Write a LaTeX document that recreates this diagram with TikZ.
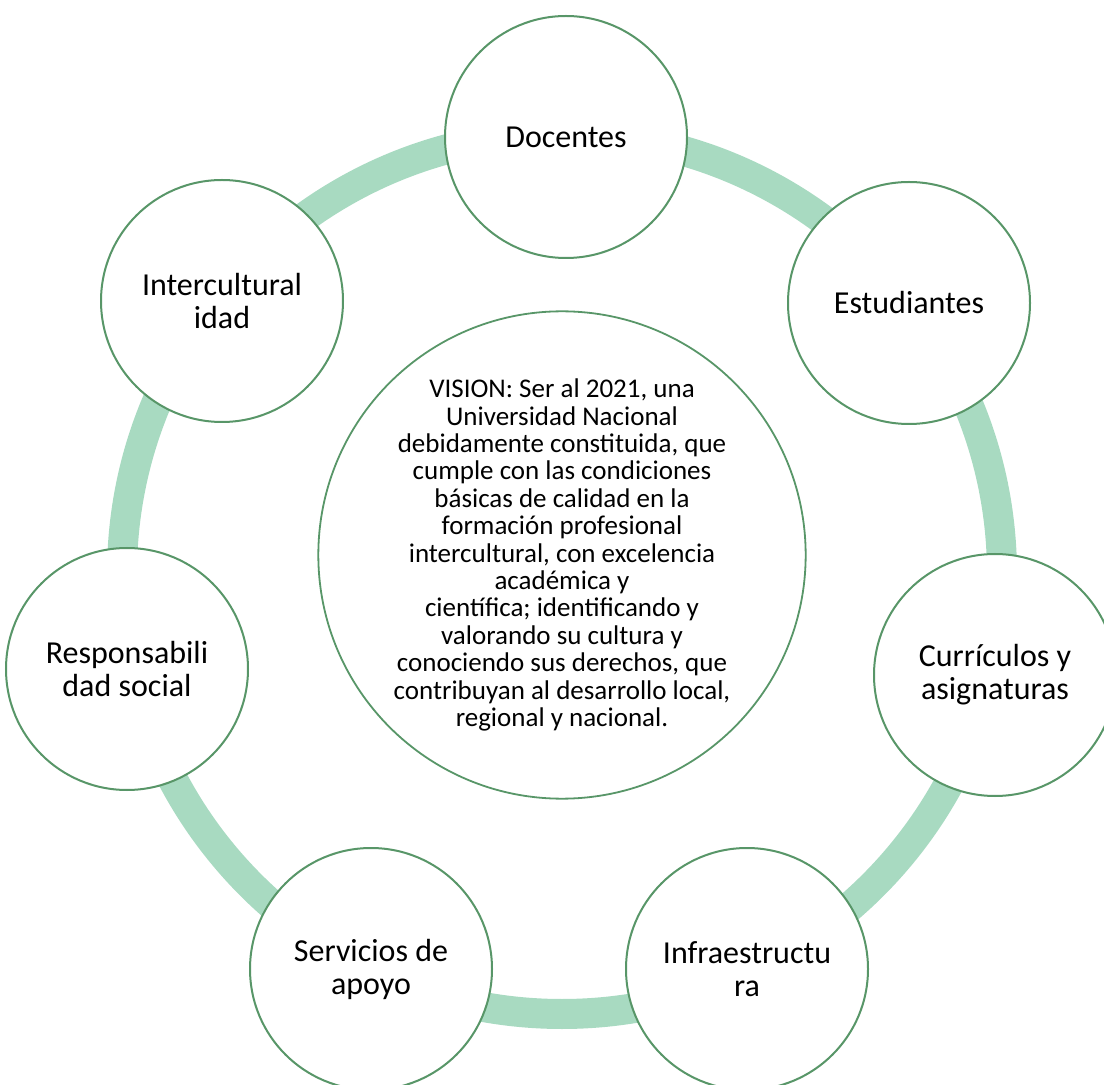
\documentclass[tikz,border=0pt]{standalone}
\usepackage{fontspec}
\setmainfont{Carlito}

\definecolor{ringgreen}{RGB}{168,218,193}
\definecolor{edgegreen}{RGB}{88,150,104}

\tikzset{
  petal/.style={circle, draw=edgegreen, line width=1pt, fill=white,
    minimum size=121pt, inner sep=0pt, align=center,
    font=\fontsize{16}{16.5}\selectfont},
  hub/.style={circle, draw=edgegreen, line width=0.9pt, fill=white,
    minimum size=238pt, inner sep=0pt, align=center,
    font=\fontsize{13.5}{13.7}\selectfont},
  ring/.style={draw=ringgreen, line width=15pt}
}

\begin{document}
\begin{tikzpicture}[x=0.5pt, y=-0.5pt]
	\useasboundingbox (0,0) rectangle (1104,1085);
	
	% the cycle behind the circles
	\coordinate (mid) at (562,574);
	\draw[ring] (mid) circle[radius=220pt];
	
	\node[hub] (vision) at (562,555) {VISION: Ser al 2021, una\\Universidad Nacional\\debidamente constituida, que\\cumple con las condiciones\\básicas de calidad en la\\formación profesional\\intercultural, con excelencia\\académica y\\científica; identificando y\\valorando su cultura y\\conociendo sus derechos, que\\contribuyan al desarrollo local,\\regional y nacional.};
	
	\node[petal] (doc) at (566,137) {Docentes};
	\node[petal] (est) at (909,303) {Estudiantes};
	\node[petal] (cur) at (995,675) {Currículos y\\asignaturas};
	\node[petal] (inf) at (747,969) {Infraestructu\\ra};
	\node[petal] (ser) at (371,969) {Servicios de\\apoyo};
	\node[petal] (res) at (127,669) {Responsabili\\dad social};
	\node[petal] (int) at (222,301) {Intercultural\\idad};
\end{tikzpicture}
\end{document}
